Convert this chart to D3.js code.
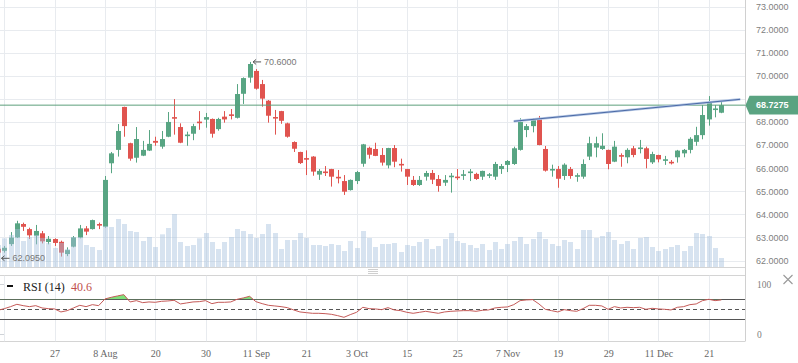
<!DOCTYPE html>
<html>
<head>
<meta charset="utf-8">
<script src="https://cdn.jsdelivr.net/npm/d3@7"></script>
<style>
body { margin: 0; background: #fff; }
svg { display: block; }
</style>
</head>
<body>
<script>
// daily candles, oldest first
const openP = [
  62.51, 62.42, 62.71, 63.00, 63.58, 63.36, 63.07, 63.18, 62.80, 62.93,
  62.81, 62.28, 62.60, 62.99, 63.39, 63.36, 63.58, 63.46, 66.21, 66.79,
  68.65, 67.08, 66.45, 66.54, 66.76, 67.18, 66.93, 67.36, 68.20, 67.78,
  67.40, 67.49, 68.00, 68.10, 68.13, 67.69, 68.23, 68.31, 68.18, 69.22,
  69.92, 70.21, 69.64, 68.92, 68.20, 68.47, 67.94, 67.13, 66.70, 66.42,
  66.50, 65.72, 65.84, 65.96, 65.61, 65.44, 65.05, 65.44, 66.19, 66.88,
  66.83, 66.57, 66.12, 66.87, 66.17, 65.96, 65.49, 65.27, 65.63, 65.79,
  65.53, 65.37, 65.62, 65.62, 65.68, 65.80, 65.75, 65.63, 65.68, 65.63,
  65.96, 66.14, 66.18, 66.79, 67.65, 67.82, 68.13, 66.83, 65.91, 65.96,
  65.66, 65.96, 65.64, 65.63, 66.50, 66.89, 66.83, 66.79, 66.28, 66.55,
  66.47, 66.86, 66.84, 66.86, 66.25, 66.57, 66.33, 66.26, 66.47, 66.64,
  66.79, 67.14, 67.43, 68.11, 68.53, 68.40
];
const highP = [
  62.56, 62.63, 63.23, 63.72, 63.64, 63.42, 63.54, 63.28, 63.06, 62.96,
  62.86, 62.57, 63.06, 63.54, 63.49, 63.77, 63.64, 65.66, 66.70, 67.91,
  68.66, 67.10, 67.78, 67.18, 67.65, 67.36, 67.61, 68.43, 68.99, 67.94,
  67.58, 67.92, 68.47, 68.39, 68.15, 68.18, 68.47, 68.56, 69.64, 69.93,
  70.60, 70.29, 69.82, 68.95, 68.52, 68.48, 67.97, 67.16, 66.71, 66.77,
  66.52, 65.96, 66.09, 65.97, 65.92, 65.70, 65.51, 65.88, 67.05, 66.93,
  67.10, 66.87, 66.88, 67.00, 66.41, 65.97, 65.66, 65.66, 65.88, 65.92,
  65.70, 65.70, 65.79, 65.96, 65.92, 65.96, 65.80, 65.89, 65.79, 66.27,
  66.18, 66.35, 66.93, 68.16, 67.91, 68.17, 68.26, 66.96, 66.15, 66.09,
  66.21, 66.05, 65.78, 66.38, 67.36, 67.36, 67.51, 66.80, 67.18, 66.64,
  66.86, 66.96, 67.22, 66.93, 66.71, 66.58, 66.53, 66.35, 66.79, 66.83,
  67.34, 67.79, 68.73, 69.12, 68.73, 68.95
];
const lowP = [
  62.095, 62.34, 62.63, 62.98, 63.28, 62.93, 62.70, 62.74, 62.70, 62.63,
  62.17, 62.19, 62.57, 62.96, 63.10, 63.34, 63.36, 63.42, 65.78, 66.50,
  67.36, 66.32, 66.24, 66.52, 66.74, 66.97, 66.84, 67.34, 67.45, 67.08,
  66.97, 67.21, 67.66, 67.75, 67.32, 67.62, 67.97, 68.11, 68.15, 68.78,
  69.70, 69.40, 68.66, 67.97, 67.45, 67.92, 67.32, 66.70, 66.18, 65.70,
  65.67, 65.49, 65.66, 65.20, 65.34, 64.84, 65.03, 65.31, 66.06, 66.41,
  66.52, 66.11, 65.99, 66.04, 65.85, 65.27, 65.23, 65.23, 65.46, 65.31,
  64.98, 65.23, 64.94, 65.49, 65.49, 65.44, 65.49, 65.49, 65.57, 65.49,
  65.75, 65.83, 66.14, 66.76, 67.34, 67.55, 66.99, 65.85, 65.63, 65.15,
  65.49, 65.54, 65.41, 65.54, 66.35, 66.47, 66.79, 65.95, 66.26, 66.06,
  66.21, 66.47, 66.64, 65.99, 66.18, 66.25, 66.14, 66.16, 66.24, 66.47,
  66.64, 66.97, 67.25, 67.84, 68.20, 68.38
];
const closeP = [
  62.34, 62.55, 62.99, 63.61, 63.46, 63.09, 63.28, 62.83, 62.94, 62.76,
  62.34, 62.45, 63.00, 63.39, 63.25, 63.75, 63.51, 65.49, 66.64, 67.61,
  67.82, 66.41, 67.26, 66.79, 67.05, 67.10, 67.26, 68.00, 68.15, 67.10,
  67.44, 67.82, 67.96, 68.21, 67.49, 68.13, 68.11, 68.28, 69.21, 69.90,
  70.51, 69.44, 69.01, 68.27, 68.16, 68.05, 67.36, 66.84, 66.22, 66.38,
  65.85, 65.88, 65.80, 65.63, 65.57, 64.98, 65.49, 65.83, 67.03, 66.58,
  66.53, 66.24, 66.87, 66.28, 66.13, 65.63, 65.27, 65.49, 65.79, 65.50,
  65.23, 65.49, 65.66, 65.58, 65.72, 65.84, 65.53, 65.88, 65.72, 66.18,
  66.09, 66.31, 66.86, 68.00, 67.82, 68.08, 67.00, 65.89, 65.95, 65.54,
  66.15, 65.66, 65.68, 66.18, 67.08, 67.08, 66.97, 66.18, 66.93, 66.51,
  66.79, 66.57, 66.88, 66.40, 66.61, 66.38, 66.37, 66.22, 66.76, 66.79,
  67.27, 67.43, 68.30, 68.85, 68.57, 68.7275
];
const volume = [
  2200, 2870, 3200, 3800, 2600, 3000, 3200, 2900, 2400, 1900,
  2400, 1800, 3000, 3000, 2200, 2000, 1700, 4100, 4000, 4800,
  4300, 3600, 3500, 2600, 3000, 2000, 3270, 3900, 5300, 2500,
  2100, 2200, 2870, 3400, 2500, 1800, 2500, 3000, 3800, 3600,
  3300, 2900, 3300, 4300, 3400, 1800, 2700, 2700, 3400, 2900,
  2200, 2200, 2100, 2300, 2200, 1600, 2600, 1900, 3600, 2900,
  2000, 2300, 2300, 2400, 1500, 2200, 2100, 2500, 2800, 1800,
  2100, 2800, 3400, 2600, 2400, 2200, 1900, 2300, 1700, 2500,
  1800, 2300, 2600, 3000, 2300, 2800, 3500, 2800, 2300, 2100,
  2700, 2500, 1800, 3700, 3700, 2900, 3100, 3500, 2700, 2300,
  2600, 1800, 2900, 3000, 2000, 1600, 1800, 2000, 2200, 1600,
  2100, 3400, 3300, 3100, 1900, 900
];
const rsi = [
  48, 51.3, 55.3, 60, 57.3, 55.3, 57.3, 52.7, 51.3, 50.7,
  44.7, 47.3, 52.7, 58, 55.3, 59.3, 57.3, 70.7, 74, 76.7,
  79.3, 64.7, 67.3, 63.3, 64.7, 64, 66, 66.7, 68, 60.7,
  62.7, 64.7, 65.3, 67.3, 61.3, 64, 64, 64.7, 70, 72.7,
  76, 65.3, 61.3, 58, 56.7, 55.3, 53.3, 48.7, 44.7, 43.3,
  42, 42, 41.3, 40, 37.3, 34, 39.3, 44, 54, 51.3,
  50.7, 49.3, 53.3, 48.7, 47.3, 44, 42, 44, 46, 44,
  42, 44.7, 46, 46.7, 47.3, 47.3, 46, 48, 48.7, 52.7,
  54, 54.7, 59.3, 67.3, 68.7, 69.3, 60.7, 50, 47.3, 44.7,
  49.3, 47.3, 46, 51.3, 58, 58, 56.7, 50, 55.3, 52.7,
  54, 53.3, 54, 50, 52, 50.7, 50, 48.7, 54, 55.3,
  59.3, 60.7, 67.3, 70, 67.3, 68.7
];

// axis labels
const tickIdx = [9, 17, 25, 33, 41, 49, 57, 65, 73, 81, 89, 97, 105, 113];
const tickLabels = ["27", "8 Aug", "20", "30", "11 Sep", "21", "3 Oct", "15", "25", "7 Nov", "19", "29", "11 Dec", "21"];
const gridIdx = [1].concat(tickIdx);
const priceTicks = [62, 63, 64, 65, 66, 67, 68, 69, 70, 71, 72, 73];
// 69 sits under the last price tag, so it gets no label
const priceLabels = [62, 63, 64, 65, 66, 67, 68, 70, 71, 72, 73];
const rsiTicks = [0, 100];
const rsiBands = [30, 70];
const rsiMid = 50;
const rsiLabel = "RSI (14)";
const rsiLast = "40.6";

// drawn trend line and marks
const trendIdx = [82, 118];
const trendVal = [68.03, 68.98];
const lastPrice = 68.7275;
const markIdx = [40, 0];
const markVal = [70.6, 62.095];

const width = 798;
const height = 363;
const plotW = 745;
const mainBottom = 267;
const rsiTop = 275.5;
const rsiBottom = 341.5;

const green = "#58a583";
const red = "#e0544f";
const grid = "#e8ebef";

// scales
const x = d3.scaleLinear().domain([0, 115]).range([-2, 721.35]);
const y = d3.scaleLinear().domain([62, 73]).range([260.5, 6.5]);
const yVol = d3.scaleLinear().domain([0, 6000]).range([mainBottom, mainBottom - 60]);
const yRsi = d3.scaleLinear().domain([0, 100]).range([334.3, 284.3]);

const svg = d3.select("body")
    .append("svg")
    .attr("width", width)
    .attr("height", height);

const defs = svg.append("defs");
defs.append("clipPath").attr("id", "clipMain")
    .append("rect").attr("x", 0).attr("y", 0).attr("width", plotW).attr("height", mainBottom);
defs.append("clipPath").attr("id", "clipRsi")
    .append("rect").attr("x", 0).attr("y", rsiTop).attr("width", plotW).attr("height", rsiBottom - rsiTop);
defs.append("clipPath").attr("id", "clipOver")
    .append("rect").attr("x", 0).attr("y", rsiTop).attr("width", plotW).attr("height", yRsi(70) - rsiTop);

// ---- main panel ----
const main = svg.append("g").attr("clip-path", "url(#clipMain)");

main.selectAll(".hgrid")
    .data(priceTicks)
    .enter()
    .append("line")
    .attr("x1", 0).attr("x2", plotW)
    .attr("y1", d => Math.round(y(d)) + 0.5)
    .attr("y2", d => Math.round(y(d)) + 0.5)
    .attr("stroke", grid);

main.selectAll(".vgrid")
    .data(gridIdx)
    .enter()
    .append("line")
    .attr("x1", d => Math.round(x(d)) + 0.5)
    .attr("x2", d => Math.round(x(d)) + 0.5)
    .attr("y1", 0).attr("y2", mainBottom)
    .attr("stroke", grid);

const candles = openP.map((o, i) => ({ i: i, o: o, h: highP[i], l: lowP[i], c: closeP[i] }));

// wicks
main.selectAll(".wick")
    .data(candles)
    .enter()
    .append("line")
    .attr("x1", d => Math.round(x(d.i)) + 0.5)
    .attr("x2", d => Math.round(x(d.i)) + 0.5)
    .attr("y1", d => y(d.h))
    .attr("y2", d => y(d.l))
    .attr("stroke", d => d.c >= d.o ? green : red)
    .attr("stroke-width", 1);

// bodies
main.selectAll(".body")
    .data(candles)
    .enter()
    .append("rect")
    .attr("x", d => Math.round(x(d.i)) - 2)
    .attr("width", 5)
    .attr("y", d => {
        const h = Math.abs(y(d.o) - y(d.c));
        return h < 1.6 ? (y(d.o) + y(d.c)) / 2 - 0.8 : y(Math.max(d.o, d.c));
    })
    .attr("height", d => Math.max(1.6, Math.abs(y(d.o) - y(d.c))))
    .attr("fill", d => d.c >= d.o ? green : red);

// volume on top, see-through
main.selectAll(".vol")
    .data(volume)
    .enter()
    .append("rect")
    .attr("x", (d, i) => Math.round(x(i)) - 2)
    .attr("width", 5)
    .attr("y", d => yVol(d))
    .attr("height", d => mainBottom - yVol(d))
    .attr("fill", "#a6c1de")
    .attr("opacity", 0.45);

// last price line
main.append("line")
    .attr("x1", 0).attr("x2", plotW)
    .attr("y1", y(lastPrice)).attr("y2", y(lastPrice))
    .attr("stroke", "#5d9f7c")
    .attr("stroke-width", 1);

// trend line
const trendPts = trendIdx.map((d, k) => [x(d), y(trendVal[k])]);
main.append("path")
    .attr("d", d3.line()(trendPts))
    .attr("stroke", "#b4c6e4")
    .attr("stroke-width", 2.6)
    .attr("fill", "none");
main.append("path")
    .attr("d", d3.line()(trendPts))
    .attr("stroke", "#4b6aa6")
    .attr("stroke-width", 1)
    .attr("fill", "none");

// high / low marks
markIdx.forEach((d, k) => {
    const ax = x(d) + 3.5;
    const ay = y(markVal[k]);
    const m = main.append("g");
    m.append("path")
        .attr("d", "M" + ax + "," + ay + "H" + (ax + 8) + "M" + (ax + 3) + "," + (ay - 2.5) + "L" + ax + "," + ay + "L" + (ax + 3) + "," + (ay + 2.5))
        .attr("stroke", "#555")
        .attr("fill", "none");
    m.append("text")
        .attr("x", ax + 11)
        .attr("y", ay)
        .attr("dy", "0.35em")
        .attr("font-family", "Liberation Sans, Arial, sans-serif")
        .attr("font-size", 9)
        .attr("fill", "#777")
        .text(d3.format(".4f")(markVal[k]));
});

// panel borders
svg.append("line").attr("x1", 0).attr("x2", plotW).attr("y1", mainBottom + 0.5).attr("y2", mainBottom + 0.5).attr("stroke", "#d4d4d4");
svg.append("line").attr("x1", 0).attr("x2", plotW).attr("y1", rsiTop).attr("y2", rsiTop).attr("stroke", "#d4d4d4");
svg.append("line").attr("x1", 0).attr("x2", plotW).attr("y1", rsiBottom).attr("y2", rsiBottom).attr("stroke", "#d4d4d4");
svg.append("line").attr("x1", plotW + 0.5).attr("x2", plotW + 0.5).attr("y1", 0).attr("y2", rsiBottom).attr("stroke", "#d0d0d0");

// drag handle
[269.5, 271.5, 273.5].forEach(h => {
    svg.append("line").attr("x1", 368).attr("x2", 378).attr("y1", h).attr("y2", h).attr("stroke", "#cfcfcf");
});

// price axis
const yAxis = d3.axisRight(y)
    .tickValues(priceLabels)
    .tickFormat(d3.format(".4f"))
    .tickSize(0)
    .tickPadding(11);

const yg = svg.append("g")
    .attr("transform", "translate(" + plotW + ",0)")
    .call(yAxis);
yg.select(".domain").remove();
yg.selectAll("text")
    .attr("font-family", "Liberation Sans, Arial, sans-serif")
    .attr("font-size", 9)
    .attr("fill", "#808080");

// last price tag
const ty = y(lastPrice);
svg.append("path")
    .attr("d", "M" + (plotW + 0.5) + "," + ty + "L" + (plotW + 4.5) + "," + (ty - 9.3) + "H" + width + "V" + (ty + 9.3) + "H" + (plotW + 4.5) + "Z")
    .attr("fill", "#5aa381");
svg.append("text")
    .attr("x", 756)
    .attr("y", ty)
    .attr("dy", "0.35em")
    .attr("font-family", "Liberation Sans, Arial, sans-serif")
    .attr("font-size", 9)
    .attr("font-weight", "bold")
    .attr("fill", "#fff")
    .text(d3.format(".4f")(lastPrice));

// ---- RSI panel ----
const rp = svg.append("g").attr("clip-path", "url(#clipRsi)");

rp.selectAll(".vgrid")
    .data(gridIdx)
    .enter()
    .append("line")
    .attr("x1", d => Math.round(x(d)) + 0.5)
    .attr("x2", d => Math.round(x(d)) + 0.5)
    .attr("y1", rsiTop).attr("y2", rsiBottom)
    .attr("stroke", grid);

rsiTicks.forEach(t => {
    rp.append("line").attr("x1", 0).attr("x2", 4)
        .attr("y1", Math.round(yRsi(t)) + 0.5).attr("y2", Math.round(yRsi(t)) + 0.5)
        .attr("stroke", "#cfd3d8");
});

rsiBands.forEach(b => {
    rp.append("line").attr("x1", 0).attr("x2", plotW)
        .attr("y1", Math.round(yRsi(b)) + 0.5).attr("y2", Math.round(yRsi(b)) + 0.5)
        .attr("stroke", "#555");
});
rp.append("line").attr("x1", 0).attr("x2", plotW)
    .attr("y1", Math.round(yRsi(rsiMid)) + 0.5).attr("y2", Math.round(yRsi(rsiMid)) + 0.5)
    .attr("stroke", "#555")
    .attr("stroke-dasharray", "4,3");

// overbought fill
rp.append("path")
    .datum(rsi)
    .attr("clip-path", "url(#clipOver)")
    .attr("d", d3.area().x((d, i) => x(i)).y0(yRsi(70)).y1(d => yRsi(d)))
    .attr("fill", "#7ee07a");

rp.append("path")
    .datum(rsi)
    .attr("d", d3.line().x((d, i) => x(i)).y(d => yRsi(d)))
    .attr("fill", "none")
    .attr("stroke", "#c45a58")
    .attr("stroke-width", 1);

// RSI legend
svg.append("rect").attr("x", 7).attr("y", 285).attr("width", 6).attr("height", 2).attr("fill", "#111");
svg.append("text")
    .attr("x", 23).attr("y", 291)
    .attr("font-family", "Liberation Serif, Times New Roman, serif")
    .attr("font-size", 12)
    .attr("fill", "#222")
    .text(rsiLabel);
svg.append("text")
    .attr("x", 71).attr("y", 291)
    .attr("font-family", "Liberation Serif, Times New Roman, serif")
    .attr("font-size", 12)
    .attr("fill", "#c0504d")
    .text(rsiLast);

// RSI axis
const rAxis = d3.axisRight(yRsi)
    .tickValues(rsiTicks)
    .tickSize(0)
    .tickPadding(12);
const rg = svg.append("g")
    .attr("transform", "translate(" + plotW + ",0)")
    .call(rAxis);
rg.select(".domain").remove();
rg.selectAll("text")
    .attr("font-family", "Liberation Serif, Times New Roman, serif")
    .attr("font-size", 9.5)
    .attr("fill", "#808080");

// close icon
svg.append("path")
    .attr("d", "M783.5,275 L792.5,284 M792.5,275 L783.5,284")
    .attr("stroke", "#999")
    .attr("stroke-width", 1.1);

// date axis
const xAxis = d3.axisBottom(x)
    .tickValues(tickIdx)
    .tickFormat(d => tickLabels[tickIdx.indexOf(d)])
    .tickSize(0)
    .tickPadding(8.5);
const xg = svg.append("g")
    .attr("transform", "translate(0," + rsiBottom + ")")
    .call(xAxis);
xg.select(".domain").remove();
xg.selectAll("text")
    .attr("font-family", "Liberation Serif, Times New Roman, serif")
    .attr("font-size", 10)
    .attr("fill", "#666");
</script>
</body>
</html>
